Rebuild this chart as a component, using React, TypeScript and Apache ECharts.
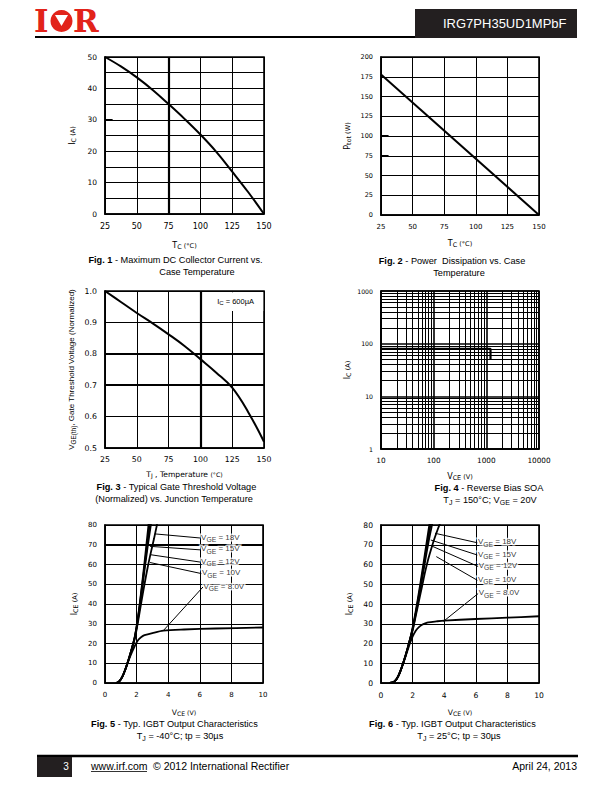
import React, { useEffect, useRef } from 'react';
import * as echarts from 'echarts';

const TF = '"DejaVu Sans", Verdana, sans-serif';
const CF = '"Liberation Sans", Arial, Helvetica, sans-serif';
const BLACK = '#000000';
const RED = '#e2231a';

// ---------------- data ----------------
// Fig. 1 - Maximum DC collector current vs case temperature
const fig1Temp = [25, 37.5, 50, 62.5, 75, 87.5, 100, 112.5, 125, 137.5, 150];
const fig1Ic = [50, 47, 43.5, 39.5, 35, 30.3, 25.3, 19.8, 13.5, 7, 0];
const fig1Stubs = [30];

// Fig. 2 - Power dissipation vs case temperature
const fig2Temp = [25, 150];
const fig2Ptot = [178, 0];
const fig2Stubs = [100, 75];

// Fig. 3 - Normalized gate threshold voltage vs junction temperature
const fig3Temp = [25, 37.5, 50, 62.5, 75, 87.5, 100, 112.5, 125, 137.5, 150];
const fig3Vth = [1.0, 0.965, 0.93, 0.897, 0.862, 0.825, 0.783, 0.74, 0.692, 0.615, 0.52];

// Fig. 4 - Reverse bias SOA
const fig4Vce = [10, 1200, 1200];
const fig4Ic = [80, 80, 50];
const fig4MinorX = [20, 30, 40, 50, 60, 70, 80, 90, 200, 300, 400, 500, 600, 700, 800, 900, 2000, 3000, 4000, 5000, 6000, 7000, 8000, 9000];
const fig4MinorY = [2, 3, 4, 5, 6, 7, 8, 9, 20, 30, 40, 50, 60, 70, 80, 90, 200, 300, 400, 500, 600, 700, 800, 900];

// Fig. 5 - Output characteristics, TJ = -40°C  ([VCE, ICE])
const fig5Vge18 = [[0.7, 0], [0.9, 0.8], [1.1, 3.2], [1.3, 7.2], [1.5, 12], [1.7, 17.5], [1.9, 24], [2.1, 34], [2.3, 47], [2.5, 61], [2.7, 76], [2.78, 82]];
const fig5Vge15 = [[0.7, 0], [0.9, 0.8], [1.1, 3.2], [1.3, 7.2], [1.5, 12], [1.7, 17.5], [1.9, 24], [2.1, 33.5], [2.3, 46], [2.5, 59], [2.7, 72], [2.88, 84]];
const fig5Vge12 = [[0.7, 0], [0.9, 0.8], [1.1, 3.2], [1.3, 7.2], [1.5, 12], [1.7, 17.5], [1.9, 23.5], [2.1, 33], [2.3, 44.5], [2.5, 57], [2.7, 69], [2.9, 80], [2.95, 83]];
const fig5Vge10 = [[0.7, 0], [0.9, 0.8], [1.1, 3.2], [1.3, 7.2], [1.5, 12], [1.7, 17.3], [1.9, 23], [2.1, 31.5], [2.3, 41], [2.5, 50], [2.7, 58.5], [2.9, 66], [3.1, 73], [3.3, 80.5]];
const fig5Vge8 = [[0.7, 0], [0.9, 0.8], [1.1, 3.2], [1.3, 7], [1.5, 11.5], [1.7, 15.5], [1.9, 19], [2.1, 21.8], [2.3, 23.3], [2.5, 24.2], [3.0, 25.3], [3.7, 26.5], [5, 27.1], [7, 27.6], [10, 28.1]];
const fig5LabelText = ['18V', '15V', '12V', '10V', '8.0V'];
const fig5LabelPos = [[6.05, 73.4], [6.05, 67.4], [6.05, 61.2], [6.1, 55.4], [6.2, 48.6]];
const fig5LeaderFrom = [[3.15, 75.5], [2.85, 69.2], [2.85, 65], [2.85, 61], [3.7, 26.6]];

// Fig. 6 - Output characteristics, TJ = 25°C
const fig6Vge18 = [[0.55, 0], [0.75, 0.3], [0.95, 1.6], [1.1, 3.6], [1.25, 6.5], [1.4, 10], [1.55, 13.8], [1.7, 18], [1.85, 22.5], [2.0, 28], [2.2, 36.5], [2.4, 46], [2.6, 56], [2.8, 66.5], [3.0, 77], [3.1, 82]];
const fig6Vge15 = [[0.55, 0], [0.75, 0.3], [0.95, 1.6], [1.1, 3.6], [1.25, 6.5], [1.4, 10], [1.55, 13.8], [1.7, 18], [1.85, 22.5], [2.0, 27.5], [2.2, 35.5], [2.4, 44.5], [2.6, 54], [2.8, 64], [3.0, 74], [3.2, 83]];
const fig6Vge12 = [[0.55, 0], [0.75, 0.3], [0.95, 1.6], [1.1, 3.6], [1.25, 6.5], [1.4, 10], [1.55, 13.8], [1.7, 18], [1.85, 22.5], [2.0, 27], [2.2, 35], [2.4, 43.5], [2.6, 52.5], [2.8, 62], [3.0, 71], [3.2, 79], [3.3, 83]];
const fig6Vge10 = [[0.55, 0], [0.75, 0.3], [0.95, 1.6], [1.1, 3.6], [1.25, 6.5], [1.4, 10], [1.55, 13.8], [1.7, 18], [1.85, 22.3], [2.0, 26.5], [2.2, 34], [2.4, 41.5], [2.6, 49], [2.8, 56.5], [3.0, 63], [3.2, 68.5], [3.4, 73.5], [3.6, 78], [3.8, 82]];
const fig6Vge8 = [[0.55, 0], [0.75, 0.3], [0.95, 1.6], [1.1, 3.6], [1.25, 6.4], [1.4, 9.8], [1.55, 13.3], [1.7, 17], [1.85, 20.5], [2.0, 23.5], [2.2, 26.5], [2.4, 28.3], [2.6, 29.5], [2.8, 30.2], [3.0, 30.7], [3.5, 31.2], [4, 31.6], [6, 32.4], [8, 33.1], [10, 33.8]];
const fig6LabelText = ['18V', '15V', '12V', '10V', '8.0V'];
const fig6LabelPos = [[6.1, 71], [6.1, 64.8], [6.15, 59], [6.1, 52], [6.15, 45.3]];
const fig6LeaderFrom = [[3.42, 75.8], [3.15, 72.4], [3.2, 69.4], [3.5, 64], [3.95, 31.2]];

// ---------------- styling helpers ----------------
function nameRich(fs: number, family = TF) {
  return {
    m: { fontFamily: family, fontSize: fs, color: BLACK, verticalAlign: 'top', lineHeight: fs + 1 },
    s: { fontFamily: family, fontSize: fs * 0.8, color: BLACK, verticalAlign: 'bottom', lineHeight: fs * 0.8 + 1, padding: [fs * 0.4, 0, 0, 0] },
    p: { fontFamily: family, fontSize: fs * 0.82, color: BLACK, verticalAlign: 'middle', lineHeight: fs * 0.82 + 1 },
  };
}

function haloRich(fs: number) {
  const halo = { textBorderColor: '#ffffff', textBorderWidth: 3 };
  return {
    m: { fontFamily: CF, fontSize: fs, color: BLACK, verticalAlign: 'top', lineHeight: fs + 2, ...halo },
    s: { fontFamily: CF, fontSize: fs * 0.85, color: BLACK, verticalAlign: 'bottom', lineHeight: fs * 0.85 + 2, padding: [fs * 0.45, 0, 0, 0], ...halo },
  };
}

const capFs = 9.2;
const capRich = {
  b: { fontFamily: CF, fontSize: capFs, fontWeight: 'bold', fill: BLACK, verticalAlign: 'top', lineHeight: capFs + 1 },
  r: { fontFamily: CF, fontSize: capFs, fill: BLACK, verticalAlign: 'top', lineHeight: capFs + 1 },
  s: { fontFamily: CF, fontSize: 7, fill: BLACK, verticalAlign: 'bottom', lineHeight: 8, padding: [4, 0, 0, 0] },
};

function caption(x: number, y: number, text: string) {
  return {
    type: 'text',
    style: {
      x, y, text, rich: capRich,
      font: `${capFs}px ${CF}`, fill: BLACK,
      align: 'center', verticalAlign: 'middle', textAlign: 'center', textVerticalAlign: 'middle',
    },
  };
}

function plainText(x: number, y: number, text: string, size: number, color: string, align = 'left', weight = 'normal', family = CF) {
  return {
    type: 'text',
    style: {
      x, y, text, fill: color,
      font: `${weight} ${size}px ${family}`,
      align, verticalAlign: 'middle', textAlign: align, textVerticalAlign: 'middle',
    },
  };
}

function valueAxis(gridIndex: number, min: number, max: number, interval: number, labelFs: number, margin: number, name: string, nameGap: number, formatter?: (v: number) => string, nameFs = 8, nameFamily = TF) {
  return {
    gridIndex,
    type: 'value',
    min, max, interval,
    axisLine: { show: true, onZero: false, lineStyle: { color: BLACK, width: 1.5 } },
    axisTick: { show: false },
    axisLabel: { color: BLACK, fontFamily: TF, fontSize: labelFs, margin, formatter: formatter || ((v: number) => String(v)) },
    splitLine: { show: true, lineStyle: { color: BLACK, width: 1 } },
    name, nameLocation: 'middle', nameGap,
    nameTextStyle: { rich: nameRich(nameFs, nameFamily) },
  };
}

function logAxis(gridIndex: number, min: number, max: number, labelFs: number, margin: number, name: string, nameGap: number) {
  return {
    gridIndex,
    type: 'log', logBase: 10,
    min, max,
    axisLine: { show: true, onZero: false, lineStyle: { color: BLACK, width: 1.5 } },
    axisTick: { show: false },
    axisLabel: { color: BLACK, fontFamily: TF, fontSize: labelFs, margin, formatter: (v: number) => String(Math.round(v)) },
    splitLine: { show: true, lineStyle: { color: BLACK, width: 1.6 } },
    minorTick: { show: false },
    minorSplitLine: { show: false },
    name, nameLocation: 'middle', nameGap,
    nameTextStyle: { rich: nameRich(8) },
  };
}

const lineBase = {
  type: 'line',
  symbol: 'none',
  silent: true,
  clip: true,
  lineStyle: { color: BLACK, width: 2 },
  itemStyle: { color: BLACK },
  emphasis: { disabled: true },
};

function boldLines(items: any[]) {
  return {
    silent: true,
    symbol: ['none', 'none'],
    label: { show: false },
    emphasis: { disabled: true },
    lineStyle: { color: BLACK, width: 2.2, type: 'solid' },
    data: items,
  };
}

function curveSeries(gi: number, data: number[][], width = 1.8) {
  return { ...lineBase, xAxisIndex: gi, yAxisIndex: gi, smooth: 0.3, data, lineStyle: { color: BLACK, width } };
}

function labelSeries(gi: number, pos: number[][], texts: string[], from: number[][]) {
  return {
    type: 'scatter',
    xAxisIndex: gi, yAxisIndex: gi,
    silent: true,
    symbolSize: 1,
    itemStyle: { color: 'rgba(0,0,0,0)' },
    emphasis: { disabled: true },
    data: pos.map((p, i) => ({ value: p, name: texts[i] })),
    label: {
      show: true, position: 'right', distance: 0,
      formatter: (p: any) => `{m|V}{s|GE}{m| = ${p.name}}`,
      rich: haloRich(8),
    },
    markLine: {
      silent: true,
      symbol: ['none', 'none'],
      label: { show: false },
      emphasis: { disabled: true },
      lineStyle: { color: BLACK, width: 1, type: 'solid' },
      data: from.map((f, i) => [{ coord: f }, { coord: pos[i] }]),
    },
    z: 5,
  };
}

function buildOption() {
  const gridBase = { show: true, borderColor: BLACK, borderWidth: 1.6, containLabel: false };
  const grid = [
    { left: 105, top: 57, width: 159, height: 157 },
    { left: 381, top: 57, width: 158, height: 158 },
    { left: 105, top: 291, width: 159, height: 157 },
    { left: 381, top: 291, width: 158, height: 158 },
    { left: 105, top: 525, width: 158, height: 158 },
    { left: 381, top: 525, width: 158, height: 158 },
  ].map((g) => ({ ...gridBase, ...g }));

  const xAxis = [
    valueAxis(0, 25, 150, 25, 8, 8, '{m|T}{s|C}{p| (°C)}', 27),
    valueAxis(1, 25, 150, 25, 7, 8, '{m|T}{s|C}{p| (°C)}', 24),
    valueAxis(2, 25, 150, 25, 7.8, 7, '{m|T}{s|J}{m| , Temperature }{p|(°C)}', 22, undefined, 7.6),
    logAxis(3, 10, 10000, 7.3, 8, '{m|V}{s|CE}{p| (V)}', 23),
    valueAxis(4, 0, 10, 2, 7, 8, '{m|V}{s|CE}{p| (V)}', 25, undefined, 7.6),
    valueAxis(5, 0, 10, 2, 7.6, 8, '{m|V}{s|CE}{p| (V)}', 25, undefined, 7.6),
  ];
  const yAxis = [
    valueAxis(0, 0, 50, 5, 7.5, 8, '{m|I}{s|C}{p| (A)}', 28, (v) => (v % 10 === 0 ? String(v) : '')),
    valueAxis(1, 0, 200, 25, 6.5, 8, '{m|P}{s|tot}{p| (W)}', 29),
    valueAxis(2, 0.5, 1.0, 0.1, 7.8, 8, '{m|V}{s|GE(th)}{m|, Gate Threshold Voltage (Normalized)}', 29, (v) => v.toFixed(1), 8, CF),
    logAxis(3, 1, 1000, 6.2, 8, '{m|I}{s|C}{p| (A)}', 29),
    valueAxis(4, 0, 80, 10, 7, 8, '{m|I}{s|CE}{p| (A)}', 26),
    valueAxis(5, 0, 80, 10, 7.6, 8, '{m|I}{s|CE}{p| (A)}', 27),
  ];

  const series: any[] = [
    // Fig 1
    {
      ...lineBase, xAxisIndex: 0, yAxisIndex: 0, smooth: 0.4,
      data: fig1Temp.map((t, i) => [t, fig1Ic[i]]),
      markLine: boldLines([
        { xAxis: 75 },
        ...fig1Stubs.map((v) => [{ coord: [25, v], lineStyle: { width: 2 } }, { coord: [31, v] }]),
      ]),
    },
    // Fig 2
    {
      ...lineBase, xAxisIndex: 1, yAxisIndex: 1,
      data: fig2Temp.map((t, i) => [t, fig2Ptot[i]]),
      markLine: boldLines(fig2Stubs.map((v) => [{ coord: [25, v], lineStyle: { width: 2 } }, { coord: [31, v] }])),
    },
    // Fig 3
    {
      ...lineBase, xAxisIndex: 2, yAxisIndex: 2, smooth: 0.4,
      data: fig3Temp.map((t, i) => [t, fig3Vth[i]]),
      markLine: boldLines([{ xAxis: 100 }, { yAxis: 0.8 }, { yAxis: 0.7 }]),
      markArea: {
        silent: true,
        itemStyle: { color: '#ffffff' },
        emphasis: { disabled: true },
        label: {
          show: true, position: 'inside',
          formatter: '{m|I}{s|C}{m| = 600µA}',
          rich: nameRich(7.5, CF),
        },
        data: [[{ xAxis: 106, yAxis: 0.936 }, { xAxis: 149.4, yAxis: 0.996 }]],
      },
    },
    // Fig 4
    {
      ...lineBase, xAxisIndex: 3, yAxisIndex: 3,
      data: fig4Vce.map((v, i) => [v, fig4Ic[i]]),
      lineStyle: { color: BLACK, width: 2.2 },
      markLine: {
        silent: true,
        symbol: ['none', 'none'],
        label: { show: false },
        emphasis: { disabled: true },
        lineStyle: { color: BLACK, width: 1, type: 'solid' },
        data: [...fig4MinorX.map((v) => ({ xAxis: v })), ...fig4MinorY.map((v) => ({ yAxis: v }))],
      },
    },
    // Fig 5
    { ...curveSeries(4, fig5Vge18), markLine: boldLines([{ yAxis: 70 }]) },
    curveSeries(4, fig5Vge15),
    curveSeries(4, fig5Vge12),
    curveSeries(4, fig5Vge10),
    curveSeries(4, fig5Vge8),
    labelSeries(4, fig5LabelPos, fig5LabelText, fig5LeaderFrom),
    // Fig 6
    curveSeries(5, fig6Vge18),
    curveSeries(5, fig6Vge15),
    curveSeries(5, fig6Vge12),
    curveSeries(5, fig6Vge10),
    curveSeries(5, fig6Vge8),
    labelSeries(5, fig6LabelPos, fig6LabelText, fig6LeaderFrom),
  ];

  const graphic: any[] = [
    // logo
    { type: 'text', style: { x: 34, y: 21, text: 'I', fill: RED, font: `bold 31px "DejaVu Serif", serif`, align: 'left', verticalAlign: 'middle', textAlign: 'left', textVerticalAlign: 'middle' } },
    { type: 'circle', shape: { cx: 61.5, cy: 21, r: 11 }, style: { fill: RED } },
    { type: 'polygon', shape: { points: [[55, 15], [68, 15], [61.5, 26]] }, style: { fill: '#ffffff' } },
    { type: 'text', style: { x: 73, y: 21, text: 'R', fill: RED, font: `bold 31px "DejaVu Serif", serif`, align: 'left', verticalAlign: 'middle', textAlign: 'left', textVerticalAlign: 'middle' } },
    // header rule and title box
    { type: 'line', shape: { x1: 35, y1: 37, x2: 415, y2: 37 }, style: { stroke: BLACK, lineWidth: 2 } },
    { type: 'rect', shape: { x: 415, y: 9, width: 162, height: 29 }, style: { fill: '#231f20' } },
    plainText(443, 23.5, 'IRG7PH35UD1MPbF', 13, '#ffffff'),
    // captions
    caption(175.5, 261, '{b|Fig. 1}{r| - Maximum DC Collector Current vs.}'),
    caption(197, 273, '{r|Case Temperature}'),
    caption(452, 262, '{b|Fig. 2}{r| - Power  Dissipation vs. Case}'),
    caption(459, 274, '{r|Temperature}'),
    caption(176.5, 488, '{b|Fig. 3}{r| - Typical Gate Threshold Voltage}'),
    caption(174, 500, '{r|(Normalized) vs. Junction Temperature}'),
    caption(489, 489, '{b|Fig. 4}{r| - Reverse Bias SOA}'),
    caption(490, 501, '{r|T}{s|J}{r| = 150°C; V}{s|GE}{r| = 20V}'),
    caption(174.5, 725, '{b|Fig. 5}{r| - Typ. IGBT Output Characteristics}'),
    caption(180, 737, '{r|T}{s|J}{r| = -40°C; tp = 30µs}'),
    caption(452.5, 725, '{b|Fig. 6}{r| - Typ. IGBT Output Characteristics}'),
    caption(459, 737, '{r|T}{s|J}{r| = 25°C; tp = 30µs}'),
    // footer
    { type: 'line', shape: { x1: 37, y1: 756, x2: 578, y2: 756 }, style: { stroke: BLACK, lineWidth: 2.5 } },
    { type: 'rect', shape: { x: 37, y: 757, width: 35, height: 20 }, style: { fill: '#231f20' } },
    plainText(66, 766, '3', 10, '#ffffff', 'center'),
    plainText(91, 766, 'www.irf.com', 10.5, BLACK),
    { type: 'line', shape: { x1: 91, y1: 771.5, x2: 147, y2: 771.5 }, style: { stroke: BLACK, lineWidth: 0.8 } },
    plainText(153, 766, '© 2012 International Rectifier', 10.5, BLACK),
    plainText(577, 766, 'April 24, 2013', 10.5, BLACK, 'right'),
  ];

  return { animation: false, backgroundColor: '#ffffff', grid, xAxis, yAxis, series, graphic };
}

export default function App() {
  const ref = useRef<HTMLDivElement>(null);
  useEffect(() => {
    if (!ref.current) return;
    const chart = echarts.init(ref.current, null, { renderer: 'svg', width: 612, height: 792 });
    chart.setOption(buildOption() as any);
    return () => chart.dispose();
  }, []);
  return (
    <div
      ref={ref}
      style={{ position: 'absolute', left: 0, top: 0, width: 612, height: 792, background: '#ffffff' }}
    />
  );
}
